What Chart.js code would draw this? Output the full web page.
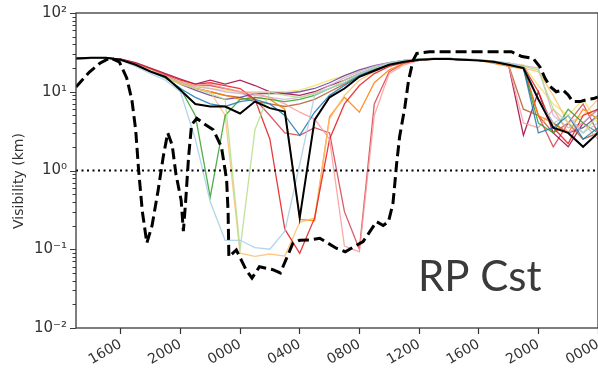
<!DOCTYPE html>
<html>
<head>
<meta charset="utf-8">
<script src="https://cdn.jsdelivr.net/npm/chart.js@4.4.1/dist/chart.umd.min.js"></script>
<style>
  html, body { margin: 0; padding: 0; background: #fff; }
  #wrap { width: 598px; height: 368px; }
</style>
</head>
<body>
<div id="wrap"><canvas id="vis-chart" width="598" height="368"></canvas></div>
<script>
// hours since 00:00 of day 1 (hourly ensemble output)
const hours = [13, 14, 15, 16, 17, 18, 19, 20, 21, 22, 23, 24, 25, 26, 27, 28, 29, 30,
               31, 32, 33, 34, 35, 36, 37, 38, 39, 40, 41, 42, 43, 44, 45, 46, 47, 48];

// ensemble members, visibility (km)
const memLightBlue = [26, 27, 27, 25, 21, 17, 14, 10, 2.5, 0.4, 0.13, 0.13, 0.105, 0.1, 0.17, 1.2, 9, 11, 13, 17, 20, 23, 25, 26, 26.5, 26.5, 26, 25.5, 24.5, 23, 21, 8, 4, 5, 3, 4];
const memBlue = [26.5, 27, 27, 25.5, 22, 18, 15, 11, 8.5, 7, 6.5, 7.5, 8, 7, 5, 2.8, 5.5, 9, 12, 16, 19, 22, 24, 25.5, 26, 26, 25.5, 25, 24, 22, 20, 3, 3.5, 5, 2.5, 3.5];
const memLightGreen = [26.5, 27, 27, 25.5, 22, 18.5, 15.5, 13, 11, 9.5, 8, 0.1, 3.3, 10, 9, 8.5, 9.5, 11, 14, 17, 20, 23, 25, 26, 26.5, 26.5, 26, 25, 24, 22.5, 21, 19, 6, 4, 3, 5];
const memGreen = [26.5, 27, 27, 25.5, 22, 18, 15, 11, 5, 0.46, 5, 8, 8.5, 8, 7.5, 8, 9, 11, 13, 16, 19.5, 22.5, 24.5, 25.5, 26, 26, 25.5, 25, 24, 22, 20, 4, 3, 6, 4, 3];
const memPink = [26, 26.5, 27, 25.5, 22.5, 19, 16, 13.5, 12, 12.5, 11, 10, 9.5, 8.5, 7, 5.5, 4.5, 2.5, 0.11, 0.093, 5, 17, 22, 25, 26, 26, 25.5, 25, 24, 22, 4, 3.5, 6, 3, 4, 2.5];
const memRed = [26.5, 27, 27, 26, 23, 19.5, 16.5, 14, 12.5, 13, 12, 11, 8, 2.5, 0.18, 0.089, 0.25, 2.5, 7, 12, 17, 21, 23.5, 25, 26, 26, 25.5, 25, 24, 22, 21, 10, 3.5, 2.2, 5, 6];
const memLightOrange = [26.5, 27, 27, 25.5, 22, 18, 15, 12.5, 11, 10, 5, 0.089, 0.081, 0.087, 0.082, 0.22, 0.25, 4.5, 9, 14, 18, 22, 24.5, 25.5, 26, 26, 25.5, 25, 24, 22, 20, 18, 9, 4, 5, 8];
const memOrange = [26.5, 27, 27, 25.5, 22, 18.5, 15.5, 13, 11, 10, 9, 8, 8.5, 8, 6, 0.24, 0.23, 4.8, 8.5, 5.5, 13, 19, 23, 25, 26, 26, 25.5, 25, 23, 21, 19.5, 5, 4, 3, 6, 4.5];
const memLavender = [26.5, 27, 27, 25.5, 22, 18.5, 15.5, 13, 11.5, 11, 10, 9.5, 9, 8.5, 8, 8.5, 9.5, 12, 15, 18, 21, 23.5, 25, 26, 26.5, 26.5, 26, 25.5, 24.5, 23, 21.5, 20, 5, 3.5, 4, 6];
const memPurple = [26.5, 27, 27, 25.5, 22, 18.5, 15.5, 12.5, 10.5, 9, 8, 8.5, 9.5, 9.5, 9.5, 10, 11, 13, 16, 19, 21.5, 23.5, 25, 26, 26.5, 26.5, 26, 25, 24, 22.5, 21, 8, 4, 3, 3.5, 5];
const memYellow = [26.5, 27, 27, 25.5, 22, 18.5, 15.5, 13, 12, 11, 10.5, 10, 10, 10, 10, 10.5, 12, 14, 16, 18.5, 21, 23, 25, 26, 26.5, 26.5, 26, 25.5, 24.5, 23, 22, 12, 7, 5, 8, 4];
const memBrown = [26.5, 27, 27, 25.5, 22.5, 19, 16, 13, 11, 10, 9, 8.5, 7.5, 7, 6.5, 7, 8, 10, 12.5, 15.5, 19, 22, 24, 25.5, 26, 26, 25.5, 25, 24, 22, 6, 5, 3, 4, 2.5, 3];
const memMaroon = [26, 26.5, 27, 26, 23.5, 20, 17, 14.5, 12.5, 14, 12.5, 14, 12, 10, 9.5, 9, 10, 12, 14, 17, 20, 22.5, 24.5, 25.5, 26, 26, 25.5, 25, 24, 22, 2.8, 10, 3, 2, 4, 6];
const memCrimson = [26.5, 27, 27, 26, 23, 19, 16, 13, 12, 12, 11, 10, 8, 5, 3, 2.8, 3.5, 3, 0.3, 0.1, 7, 18, 23, 25, 26, 26, 25.5, 25, 24, 23, 21, 5, 2, 4, 7, 3];
const memControl = [26.5, 27, 27, 25.5, 22, 18, 15.5, 10.5, 7, 6.5, 6.5, 5.3, 7.5, 6.2, 5.6, 0.25, 4.4, 8.5, 11, 15.5, 18.5, 22, 24, 25.5, 26, 26, 25.5, 25, 24, 22, 20, 8, 3.5, 3, 2, 3];

// observations (irregular times)
const obsHours = [13.0, 13.9, 14.6, 15.3, 15.9, 16.4, 16.75, 17.0, 17.2, 17.45, 17.75, 18.1, 18.5, 18.85, 19.15,
                  19.45, 19.7, 20.05, 20.2, 20.35, 20.55, 20.75, 21.1, 21.6, 22.2, 22.75, 23.1, 23.2, 23.25, 23.75,
                  24.4, 24.8, 25.3, 26.2, 26.7, 27.55, 28.0, 28.7, 29.35, 30.45, 31.05, 32.25, 33.15, 33.6, 33.95,
                  34.25, 34.4, 34.5, 34.7, 35.05, 35.3, 35.6, 35.85, 36.7, 42.2, 42.9, 43.65, 44.1, 44.45, 44.8,
                  45.2, 45.65, 46.0, 46.3, 46.8, 47.2, 47.7, 48.0];
const obsVis = [11.5, 17.8, 23, 27, 24, 15, 7.8, 3.3, 1.0, 0.3, 0.12, 0.2, 0.55, 1.5, 3.0,
                2.1, 0.9, 0.42, 0.17, 0.4, 1.5, 3.8, 4.6, 3.9, 3.3, 2.0, 0.76, 0.29, 0.08, 0.098,
                0.055, 0.043, 0.06, 0.055, 0.05, 0.12, 0.13, 0.131, 0.138, 0.103, 0.093, 0.125, 0.224, 0.2, 0.224,
                0.38, 0.76, 1.23, 2.7, 6.4, 14, 25, 30.7, 32.2, 32.2, 28, 26.5, 20.8, 14.8, 11.6,
                10.0, 10.5, 9.1, 7.5, 7.5, 7.9, 8.2, 8.6];

const threshold = 1.0;

const xTickHours = [16, 20, 24, 28, 32, 36, 40, 44, 48];
const xTickLabels = ['1600', '2000', '0000', '0400', '0800', '1200', '1600', '2000', '0000'];
const yTickValues = [0.01, 0.1, 1, 10, 100];
const yTickLabels = ['10\u207B\u00B2', '10\u207B\u00B9', '10\u2070', '10\u00B9', '10\u00B2'];

const members = [
  [memLightBlue, '#a6cee3'], [memBlue, '#1f78b4'], [memLightGreen, '#b2df8a'], [memGreen, '#33a02c'],
  [memPink, '#fb9a99'], [memRed, '#e31a1c'], [memLightOrange, '#fdbf6f'], [memOrange, '#ff7f00'],
  [memLavender, '#cab2d6'], [memPurple, '#6a3d9a'], [memYellow, '#f2e36b'], [memBrown, '#b15928'],
  [memMaroon, '#9e0142'], [memCrimson, '#d6404e']
];

const toPoints = (xs, ys) => xs.map((x, i) => ({ x: x, y: ys[i] }));

const datasets = [
  {
    label: 'Obs',
    data: toPoints(obsHours, obsVis),
    borderColor: '#000',
    borderWidth: 3,
    borderDash: [11, 5]
  },
  {
    label: '1 km',
    data: [{ x: hours[0], y: threshold }, { x: hours[hours.length - 1], y: threshold }],
    borderColor: '#000',
    borderWidth: 2,
    borderDash: [2, 3.5]
  },
  {
    label: 'Control',
    data: toPoints(hours, memControl),
    borderColor: '#000',
    borderWidth: 2
  }
];
members.forEach(function (m, i) {
  datasets.push({
    label: 'Member ' + (i + 1),
    data: toPoints(hours, m[0]),
    borderColor: m[1] + 'd9',
    borderWidth: 1.3
  });
});

const decor = {
  id: 'decor',
  afterDraw(chart) {
    const ctx = chart.ctx;
    const a = chart.chartArea;
    const y = chart.scales.y;
    ctx.save();
    // frame
    ctx.strokeStyle = '#3a3a3a';
    ctx.lineWidth = 1.3;
    ctx.strokeRect(a.left, a.top, a.right - a.left, a.bottom - a.top);
    // y ticks (major + minor)
    ctx.lineWidth = 1;
    for (let e = -2; e <= 2; e++) {
      for (let m = 1; m <= 9; m++) {
        const v = m * Math.pow(10, e);
        if (v > 100.0001) break;
        const py = Math.round(y.getPixelForValue(v)) + 0.5;
        const len = m === 1 ? 6 : 3.5;
        ctx.beginPath();
        ctx.moveTo(a.left - len, py);
        ctx.lineTo(a.left, py);
        ctx.stroke();
      }
    }
    // y title
    ctx.fillStyle = '#333';
    ctx.font = '14px "DejaVu Sans"';
    ctx.textAlign = 'center';
    ctx.textBaseline = 'middle';
    ctx.translate(19, 181);
    ctx.rotate(-Math.PI / 2);
    ctx.fillText('Visibility (km)', 0, 0);
    ctx.restore();
    // label
    ctx.save();
    ctx.fillStyle = '#3a3a3a';
    ctx.font = '42px Lato';
    ctx.textAlign = 'left';
    ctx.textBaseline = 'alphabetic';
    ctx.fillText('RP Cst', 418, 291);
    ctx.restore();
  }
};

new Chart(document.getElementById('vis-chart'), {
  type: 'line',
  data: { datasets: datasets },
  options: {
    responsive: false,
    animation: false,
    devicePixelRatio: 1,
    layout: { padding: { top: 13, right: 0, bottom: 0, left: 0 } },
    elements: { point: { radius: 0 }, line: { tension: 0 } },
    plugins: { legend: { display: false }, tooltip: { enabled: false } },
    scales: {
      x: {
        type: 'linear',
        min: 13,
        max: 48,
        afterBuildTicks: function (s) { s.ticks = xTickHours.map(v => ({ value: v })); },
        afterFit: function (s) { s.height = 40; s.paddingLeft = 0; s.paddingRight = 0; },
        ticks: {
          autoSkip: false,
          minRotation: 30,
          maxRotation: 30,
          padding: 2,
          color: '#333',
          font: { family: 'DejaVu Sans', size: 14 },
          callback: function (v, i) { return xTickLabels[i]; }
        },
        grid: { drawOnChartArea: false, tickLength: 6, tickColor: '#333', tickWidth: 1.2 },
        border: { display: false }
      },
      y: {
        type: 'logarithmic',
        min: 0.01,
        max: 100,
        afterBuildTicks: function (s) { s.ticks = yTickValues.map(v => ({ value: v })); },
        afterFit: function (s) { s.width = 76; },
        ticks: {
          autoSkip: false,
          padding: 3,
          color: '#333',
          font: { family: 'DejaVu Sans', size: 15 },
          callback: function (v, i) { return yTickLabels[i]; }
        },
        grid: { display: false, tickLength: 6 },
        border: { display: false }
      }
    }
  },
  plugins: [decor]
});
</script>
</body>
</html>
